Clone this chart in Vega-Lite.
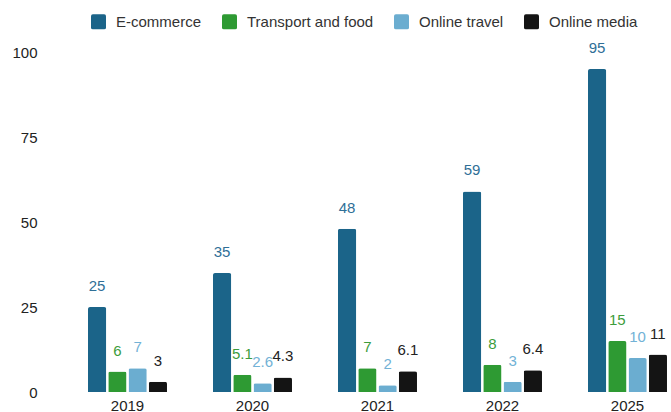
{
  "$schema": "https://vega.github.io/schema/vega-lite/v6.json",
  "autosize": "none",
  "width": 631,
  "height": 340,
  "padding": {"left": 40, "top": 52, "right": 0, "bottom": 20},
  "background": "white",
  "config": {
    "view": {"stroke": null},
    "font": "Liberation Sans"
  },
  "data": {
    "values": [
      {"year": "2019", "category": "E-commerce", "value": 25},
      {"year": "2019", "category": "Transport and food", "value": 6},
      {"year": "2019", "category": "Online travel", "value": 7},
      {"year": "2019", "category": "Online media", "value": 3},
      {"year": "2020", "category": "E-commerce", "value": 35},
      {"year": "2020", "category": "Transport and food", "value": 5.1},
      {"year": "2020", "category": "Online travel", "value": 2.6},
      {"year": "2020", "category": "Online media", "value": 4.3},
      {"year": "2021", "category": "E-commerce", "value": 48},
      {"year": "2021", "category": "Transport and food", "value": 7},
      {"year": "2021", "category": "Online travel", "value": 2},
      {"year": "2021", "category": "Online media", "value": 6.1},
      {"year": "2022", "category": "E-commerce", "value": 59},
      {"year": "2022", "category": "Transport and food", "value": 8},
      {"year": "2022", "category": "Online travel", "value": 3},
      {"year": "2022", "category": "Online media", "value": 6.4},
      {"year": "2025", "category": "E-commerce", "value": 95},
      {"year": "2025", "category": "Transport and food", "value": 15},
      {"year": "2025", "category": "Online travel", "value": 10},
      {"year": "2025", "category": "Online media", "value": 11}
    ]
  },
  "encoding": {
    "x": {
      "field": "year",
      "type": "nominal",
      "sort": ["2019", "2020", "2021", "2022", "2025"],
      "scale": {"paddingInner": 0.368, "paddingOuter": 0.208, "align": 0.923},
      "axis": {
        "title": null,
        "labelAngle": 0,
        "domain": false,
        "ticks": false,
        "labelPadding": 6,
        "labelFontSize": 15,
        "labelColor": "#222222"
      }
    },
    "xOffset": {
      "field": "category",
      "type": "nominal",
      "sort": ["E-commerce", "Transport and food", "Online travel", "Online media"],
      "scale": {"paddingInner": 0.1, "paddingOuter": 0}
    },
    "y": {
      "field": "value",
      "type": "quantitative",
      "scale": {"domain": [0, 100], "nice": false},
      "axis": {
        "title": null,
        "values": [0, 25, 50, 75, 100],
        "grid": false,
        "domain": false,
        "ticks": false,
        "labelPadding": 3,
        "labelFontSize": 15,
        "labelColor": "#222222"
      }
    }
  },
  "layer": [
    {
      "mark": {"type": "bar", "cornerRadiusTopLeft": 2, "cornerRadiusTopRight": 2},
      "encoding": {
        "color": {
          "field": "category",
          "type": "nominal",
          "sort": ["E-commerce", "Transport and food", "Online travel", "Online media"],
          "scale": {
            "domain": ["E-commerce", "Transport and food", "Online travel", "Online media"],
            "range": ["#1b6489", "#2e9a33", "#6badd0", "#141414"]
          },
          "legend": {
            "title": null,
            "orient": "none",
            "legendX": 51,
            "legendY": -38,
            "direction": "horizontal",
            "columns": 4,
            "padding": 0,
            "symbolType": "M -0.75 -1 H 0.75 Q 1 -1 1 -0.75 V 0.75 Q 1 1 0.75 1 H -0.75 Q -1 1 -1 0.75 V -0.75 Q -1 -1 -0.75 -1 Z",
            "symbolSize": 225,
            "symbolStrokeWidth": 0,
            "labelFontSize": 15,
            "labelColor": "#333333",
            "labelOffset": 10,
            "columnPadding": 20,
            "labelLimit": 300
          }
        }
      }
    },
    {
      "mark": {"type": "text", "baseline": "alphabetic", "dy": -16, "fontSize": 15},
      "encoding": {
        "text": {"field": "value", "type": "quantitative"},
        "color": {
          "field": "category",
          "type": "nominal",
          "scale": {
            "domain": ["E-commerce", "Transport and food", "Online travel", "Online media"],
            "range": ["#2f6f97", "#3c9c3c", "#72b2d6", "#222222"]
          },
          "legend": null
        }
      }
    }
  ],
  "resolve": {"scale": {"color": "independent"}}
}
